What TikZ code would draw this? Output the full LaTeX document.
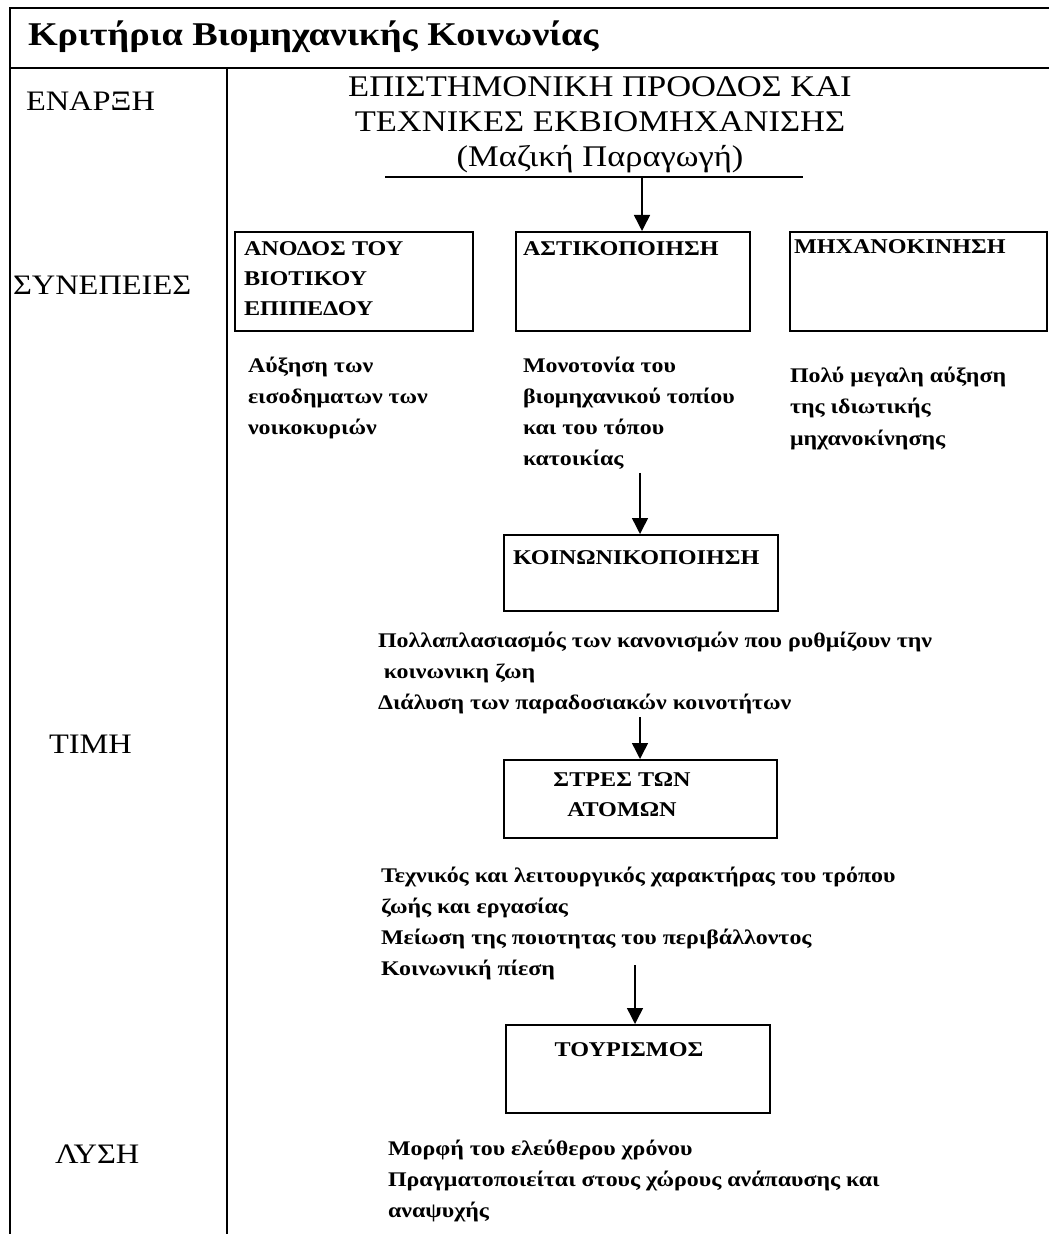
\documentclass[tikz,border=0pt]{standalone}
\usepackage{fontspec}
\setmainfont{Liberation Serif}[FakeStretch=1.15]
\usetikzlibrary{arrows.meta}

\begin{document}
\begin{tikzpicture}[x=0.5pt, y=-0.5pt, line width=1pt, >={Triangle[width=8pt,length=8pt]},
  box/.style = {draw, line width=1pt, inner sep=0pt, anchor=north west},
  lbl/.style = {anchor=base west, inner sep=0pt, font=\fontsize{14.1}{15}\selectfont},
  boxtxt/.style = {anchor=base west, inner sep=0pt, align=left, font=\fontsize{10.5}{15}\selectfont\bfseries},
  txt/.style = {anchor=base west, inner sep=0pt, align=left, font=\fontsize{10.4}{15.5}\selectfont\bfseries},
  arr/.style = {->, line width=0.75pt}]
  \useasboundingbox (0,0) rectangle (1049,1234);
  \draw (10,1234) -- (10,8) -- (1049,8);
  \draw (10,68) -- (1049,68);
  \draw (227,68) -- (227,1234);
  \node[anchor=base west, inner sep=0pt, font=\fontsize{16.6}{17}\selectfont\bfseries] (title) at (27,46) {Κριτήρια Βιομηχανικής Κοινωνίας};
  \node[lbl] (enarxi) at (25,111) {ΕΝΑΡΞΗ};
  \node[lbl] (synepeies) at (12,295) {ΣΥΝΕΠΕΙΕΣ};
  \node[lbl] (timi) at (48,753) {ΤΙΜΗ};
  \node[lbl] (lysi) at (54,1163) {ΛΥΣΗ};
  \node[anchor=base, inner sep=0pt, align=center, font=\fontsize{15}{17.5}\selectfont] (epist) at (600,167) {ΕΠΙΣΤΗΜΟΝΙΚΗ ΠΡΟΟΔΟΣ ΚΑΙ\\ΤΕΧΝΙΚΕΣ ΕΚΒΙΟΜΗΧΑΝΙΣΗΣ\\(Μαζική Παραγωγή)};
  \coordinate (ulL) at (385,177);
  \coordinate (ulR) at (803,177);
  \coordinate (a1) at (642,177);
  \draw[line width=0.75pt] (ulL) -- (ulR);
  \node[box, minimum width=119pt, minimum height=49.5pt] (anodos) at (234,231) {};
  \node[box, minimum width=117pt, minimum height=49.5pt] (asti) at (515,231) {};
  \node[box, minimum width=128.5pt, minimum height=49.5pt] (mixano) at (789,231) {};
  \node[boxtxt] (anodosT) at (243,316) {ΑΝΟΔΟΣ ΤΟΥ\\ΒΙΟΤΙΚΟΥ\\ΕΠΙΠΕΔΟΥ};
  \node[boxtxt] (astiT) at (522,256) {ΑΣΤΙΚΟΠΟΙΗΣΗ};
  \node[boxtxt] (mixanoT) at (793,254) {ΜΗΧΑΝΟΚΙΝΗΣΗ};
  \draw[arr] (a1) -- (a1 |- asti.north);
  \node[txt] (afxisi) at (247,435) {Αύξηση των\\εισοδηματων των\\νοικοκυριών};
  \node[txt] (monot) at (522,466) {Μονοτονία του\\βιομηχανικού τοπίου\\και του τόπου\\κατοικίας};
  \node[txt] (poly) at (789,445) {Πολύ μεγαλη αύξηση\\της ιδιωτικής\\μηχανοκίνησης};
  \node[box, minimum width=137pt, minimum height=38pt] (koin) at (503,534) {};
  \node[boxtxt] (koinT) at (512,564) {ΚΟΙΝΩΝΙΚΟΠΟΙΗΣΗ};
  \coordinate (a2) at (640,473);
  \draw[arr] (a2) -- (a2 |- koin.north);
  \node[txt] (pollapl) at (377,709) {Πολλαπλασιασμός των κανονισμών που ρυθμίζουν την\\\ κοινωνικη ζωη\\Διάλυση των παραδοσιακών κοινοτήτων};
  \node[box, minimum width=136.5pt, minimum height=39pt] (stres) at (503,759) {};
  \node[boxtxt, anchor=base, align=center] (stresT) at (622,816) {ΣΤΡΕΣ ΤΩΝ\\ΑΤΟΜΩΝ};
  \coordinate (a3) at (640,717);
  \draw[arr] (a3) -- (a3 |- stres.north);
  \node[txt] (techn) at (380,975) {Τεχνικός και λειτουργικός χαρακτήρας του τρόπου\\ζωής και εργασίας\\Μείωση της ποιοτητας του περιβάλλοντος\\Κοινωνική πίεση};
  \node[box, minimum width=132pt, minimum height=44pt] (tour) at (505,1024) {};
  \node[boxtxt, anchor=base] (tourT) at (629,1056) {ΤΟΥΡΙΣΜΟΣ};
  \coordinate (a4) at (635,965);
  \draw[arr] (a4) -- (a4 |- tour.north);
  \node[txt] (morfi) at (387,1217) {Μορφή του ελεύθερου χρόνου\\Πραγματοποιείται στους χώρους ανάπαυσης και\\αναψυχής};
\end{tikzpicture}
\end{document}
